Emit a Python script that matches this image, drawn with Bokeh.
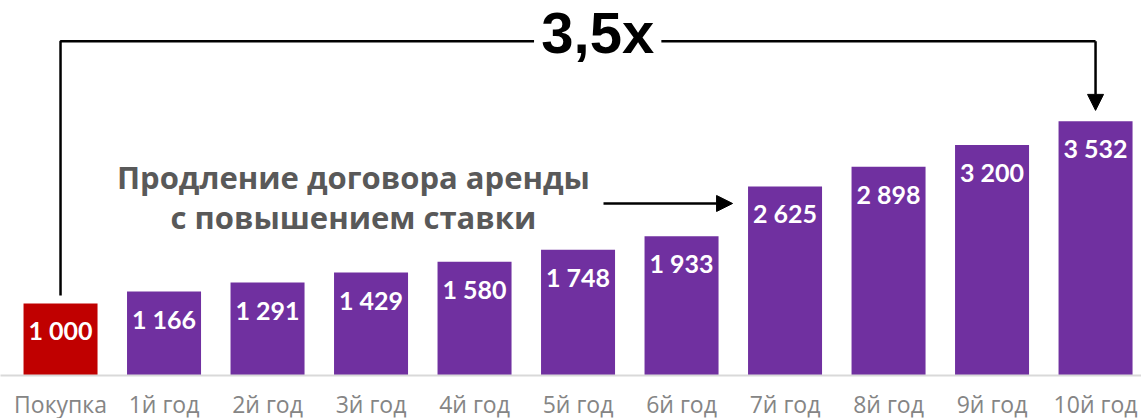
from bokeh.plotting import figure
from bokeh.models import ColumnDataSource, Range1d, FixedTicker, Arrow, NormalHead
from bokeh.core.properties import value
from bokeh.embed import file_html
from bokeh.resources import INLINE

categories = ["Покупка", "1й год", "2й год", "3й год", "4й год", "5й год",
              "6й год", "7й год", "8й год", "9й год", "10й год"]
values = [1000, 1166, 1291, 1429, 1580, 1748, 1933, 2625, 2898, 3200, 3532]
colors = ["#C00000"] + ["#7030A0"] * 10
note_lines = ["Продление договора аренды", "с повышением ставки"]
note_target = 7  # index of bar the annotation points to

xs = list(range(len(categories)))
labels = [f"{v:,}".replace(",", " ") for v in values]
ratio = values[-1] / values[0]
ratio_text = f"{ratio:.1f}".replace(".", ",") + "x"

src = ColumnDataSource(dict(x=xs, top=values, color=colors, label=labels))

p = figure(frame_width=1141, frame_height=375, output_backend="svg", toolbar_location=None,
           x_range=Range1d(-0.58, 10.444), y_range=Range1d(0, 5208),
           min_border_left=0, min_border_right=0, min_border_top=0, min_border_bottom=0)
p.outline_line_color = None
p.background_fill_color = "white"
p.border_fill_color = "white"
p.xgrid.visible = False
p.ygrid.visible = False
p.yaxis.visible = False

p.vbar(x="x", top="top", width=0.715, fill_color="color", line_color=None, source=src)
p.text(x="x", y="top", text="label", source=src, text_align="center", text_baseline="middle",
       y_offset=27, text_color="white", text_font=value("Lato"), text_font_style="bold",
       text_font_size="25px")

xa = p.xaxis[0]
xa.ticker = FixedTicker(ticks=xs)
xa.major_label_overrides = {i: c for i, c in enumerate(categories)}
xa.major_tick_line_color = None
xa.minor_tick_line_color = None
xa.axis_line_color = "#d9d9d9"
xa.axis_line_width = 2
xa.major_label_text_color = "#858585"
xa.major_label_text_font = "Open Sans"
xa.major_label_text_font_size = "23px"
xa.major_label_standoff = 6

# bracket 0 -> last with ratio label
first, last = 0, len(values) - 1
top_level = 4643
ratio_x = 5.19
gap = 0.615
p.line([first, first, ratio_x - gap], [values[first] + 111, top_level, top_level],
       line_color="black", line_width=2.5)
p.line([ratio_x + gap, last], [top_level, top_level], line_color="black", line_width=2.5)
p.add_layout(Arrow(end=NormalHead(size=16, fill_color="black", line_color="black"),
                   x_start=last, y_start=top_level, x_end=last, y_end=values[last] + 150,
                   line_color="black", line_width=2.5))
p.text(x=[ratio_x], y=[top_level], text=[ratio_text], text_align="center",
       text_baseline="middle", y_offset=-9, text_color="black",
       text_font=value("Liberation Sans"), text_font_style="bold", text_font_size="58px")

# annotation
note_x = 2.83
p.text(x=[note_x, note_x], y=[2760, 2200], text=note_lines, text_align="center",
       text_baseline="alphabetic", text_color="#595959", text_font=value("Open Sans"),
       text_font_style="bold", text_font_size="31px")
p.add_layout(Arrow(end=NormalHead(size=16, fill_color="black", line_color="black"),
                   x_start=5.246, y_start=2389, x_end=note_target - 0.507, y_end=2389,
                   line_color="black", line_width=2.5))

open("out.html", "w").write(file_html(p, INLINE))
